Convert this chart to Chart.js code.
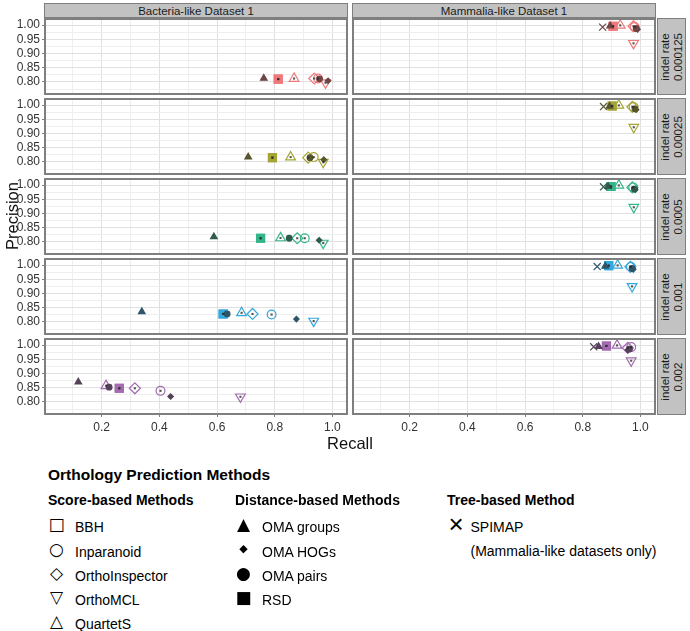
<!DOCTYPE html>
<html>
<head>
<meta charset="utf-8">
<script src="https://cdn.jsdelivr.net/npm/chart.js@4.4.1/dist/chart.umd.min.js"></script>
<style>
body { margin: 0; background: #fff; font-family: "Liberation Sans", Arial, sans-serif; }
#fig { position: relative; width: 690px; height: 631px; overflow: hidden; }
.abs { position: absolute; white-space: nowrap; }
.frame { position: absolute; border: 2px solid #7f7f7f; box-sizing: border-box; pointer-events: none; }
.strip { position: absolute; background: #c2c2c2; border: 1.5px solid #7f7f7f; box-sizing: border-box;
  font-size: 11.5px; color: #1a1a1a; display: flex; align-items: center; justify-content: center; }
.strip .rot { transform: rotate(-90deg); text-align: center; line-height: 13px; white-space: nowrap; }
.lg { font-size: 14px; color: #000; line-height: 18px; }
.sym { font-family: "DejaVu Sans", sans-serif; color: #000; line-height: 18px; text-align: center; width: 20px; }
</style>
</head>
<body>
<div id="fig"></div>
<script>
const indelRates = ['0.000125', '0.00025', '0.0005', '0.001', '0.002'];
const panelTitles = ['Bacteria-like Dataset 1', 'Mammalia-like Dataset 1'];
const methodNames = ['BBH', 'Inparanoid', 'OrthoInspector', 'OrthoMCL', 'QuartetS',
  'OMA groups', 'OMA HOGs', 'OMA pairs', 'RSD', 'SPIMAP'];

const xMajorTicks = [0.2, 0.4, 0.6, 0.8, 1.0];
const xTickLabels = ['0.2', '0.4', '0.6', '0.8', '1.0'];
const xMinorTicks = [0.1, 0.3, 0.5, 0.7, 0.9];
const yMajorTicks = [0.80, 0.85, 0.90, 0.95, 1.00];
const yTickLabels = ['0.80', '0.85', '0.90', '0.95', '1.00'];
const yMinorTicks = [0.775, 0.825, 0.875, 0.925, 0.975];

const rowColors = ['#f0787a', '#a5a536', '#35b68a', '#33a8dd', '#a36bb0'];

// one row per indel rate, columns in methodNames order (null = not run)
const bacteriaRecall = [
  [0.812, 0.950, 0.937, 0.976, 0.867, 0.762, 0.985, 0.955, 0.812, null],
  [0.792, 0.935, 0.916, 0.968, 0.855, 0.708, 0.970, 0.922, 0.792, null],
  [0.751, 0.904, 0.878, 0.968, 0.820, 0.589, 0.954, 0.850, 0.751, null],
  [0.621, 0.789, 0.723, 0.935, 0.685, 0.339, 0.875, 0.635, 0.621, null],
  [0.261, 0.404, 0.315, 0.681, 0.215, 0.119, 0.439, 0.226, 0.261, null]
];
const bacteriaPrecision = [
  [0.810, 0.812, 0.812, 0.797, 0.812, 0.813, 0.804, 0.811, 0.810, null],
  [0.815, 0.817, 0.815, 0.799, 0.817, 0.817, 0.808, 0.815, 0.815, null],
  [0.813, 0.813, 0.813, 0.796, 0.814, 0.818, 0.806, 0.813, 0.813, null],
  [0.828, 0.826, 0.828, 0.803, 0.832, 0.836, 0.810, 0.828, 0.828, null],
  [0.848, 0.839, 0.848, 0.818, 0.857, 0.870, 0.819, 0.852, 0.848, null]
];
const mammaliaRecall = [
  [0.905, 0.980, 0.976, 0.976, 0.930, 0.895, 0.990, 0.985, 0.905, 0.869],
  [0.902, 0.976, 0.972, 0.977, 0.925, 0.893, 0.985, 0.981, 0.902, 0.872],
  [0.898, 0.975, 0.972, 0.977, 0.925, 0.888, 0.982, 0.979, 0.898, 0.872],
  [0.890, 0.967, 0.965, 0.971, 0.921, 0.878, 0.975, 0.971, 0.890, 0.850],
  [0.882, 0.968, 0.956, 0.968, 0.919, 0.855, 0.956, 0.962, 0.882, 0.838]
];
const mammaliaPrecision = [
  [0.996, 0.993, 0.996, 0.936, 0.999, 0.997, 0.985, 0.988, 0.996, 0.993],
  [0.997, 0.993, 0.994, 0.922, 0.999, 0.996, 0.984, 0.987, 0.997, 0.995],
  [0.995, 0.992, 0.992, 0.922, 0.999, 0.995, 0.984, 0.986, 0.995, 0.994],
  [0.998, 0.994, 0.994, 0.925, 0.999, 0.996, 0.985, 0.988, 0.998, 0.995],
  [0.997, 0.993, 0.990, 0.945, 0.999, 0.995, 0.983, 0.986, 0.997, 0.994]
];

// marker look per method
const methodStyle = {
  'BBH':            { shape: 'rect', r: 5.6, fill: 'none', order: 5, dot: true },
  'Inparanoid':     { shape: 'circle', r: 4.4, fill: 'none', order: 4, dot: true },
  'OrthoInspector': { shape: 'rectRot', r: 5.5, fill: 'none', order: 4, dot: true },
  'OrthoMCL':       { shape: 'triangle', rot: 180, r: 5.6, fill: 'none', order: 4, dot: true },
  'QuartetS':       { shape: 'triangle', r: 5.6, fill: 'none', order: 4, dot: true },
  'OMA groups':     { shape: 'triangle', r: 3.8, fill: 'dark', order: 2 },
  'OMA HOGs':       { shape: 'rectRot', r: 2.7, fill: 'dark', order: 2 },
  'OMA pairs':      { shape: 'circle', r: 2.8, fill: 'dark', order: 2 },
  'RSD':            { shape: 'rect', r: 5.6, fill: 'color', order: 6, dot: true },
  'SPIMAP':         { shape: 'crossRot', r: 5, fill: 'line', order: 3 }
};

function darken(hex) {
  const n = parseInt(hex.slice(1), 16);
  const mixc = v => Math.round(v * 0.35 + 0x2a * 0.65);
  return 'rgb(' + mixc(n >> 16) + ',' + mixc((n >> 8) & 255) + ',' + mixc(n & 255) + ')';
}

function panelDatasets(recall, precision, color) {
  const sets = [];
  methodNames.forEach((name, m) => {
    if (recall[m] == null) return;
    const st = methodStyle[name];
    let bg = 'rgba(0,0,0,0)', bd = color;
    if (st.fill === 'dark') { bg = darken(color); bd = darken(color); }
    if (st.fill === 'color') { bg = color; bd = color; }
    if (st.fill === 'line') { bd = darken(color); }
    sets.push({
      label: name,
      data: [{ x: recall[m], y: precision[m] }],
      pointStyle: st.shape,
      rotation: st.rot || 0,
      pointRadius: st.r,
      pointBorderWidth: 1.2,
      pointBackgroundColor: bg,
      pointBorderColor: bd,
      order: st.order
    });
  });
  // small dark error marks at the centre of each open marker
  sets.push({
    label: 'error',
    data: recall.map((x, m) => ({ x: x, y: precision[m] }))
      .filter((p, m) => p.x != null && methodStyle[methodNames[m]].dot),
    pointStyle: 'rect',
    pointRadius: 1.5,
    pointBorderWidth: 0,
    pointBackgroundColor: 'rgba(45,45,45,0.8)',
    order: 0
  });
  return sets;
}

const fig = document.getElementById('fig');
function add(tag, cls, l, t, w, h, html) {
  const el = document.createElement(tag);
  if (cls) el.className = cls;
  el.style.position = 'absolute';
  el.style.left = l + 'px';
  el.style.top = t + 'px';
  if (w != null) el.style.width = w + 'px';
  if (h != null) el.style.height = h + 'px';
  if (html != null) el.innerHTML = html;
  fig.appendChild(el);
  return el;
}

const xAll = xMajorTicks.concat(xMinorTicks).sort((a, b) => a - b);
const yAll = yMajorTicks.concat(yMinorTicks).sort((a, b) => a - b);

function gridColor(major) {
  return ctx => major.indexOf(ctx.tick.value) >= 0 ? '#e0e0e0' : '#efefef';
}
function tickColor(major) {
  return ctx => major.indexOf(ctx.tick.value) >= 0 ? '#7f7f7f' : 'rgba(0,0,0,0)';
}

for (let r = 0; r < 5; r++) {
  for (let c = 0; c < 2; c++) {
    const innerL = c ? 354 : 46, innerT = 20 + 80 * r, W = 300, H = 73;
    const axisW = c ? 0 : 46, padL = c ? 6 : 0;
    const bottomAxis = r === 4;
    const axisH = bottomAxis ? 26 : 0, padB = bottomAxis ? 0 : 6;
    const cw = axisW + padL + W + 6, ch = 6 + H + axisH + padB;
    const cv = add('canvas', null, innerL - axisW - padL, innerT - 6, null, null);
    cv.width = cw; cv.height = ch;
    cv.style.width = cw + 'px'; cv.style.height = ch + 'px';

    const recall = c ? mammaliaRecall[r] : bacteriaRecall[r];
    const precision = c ? mammaliaPrecision[r] : bacteriaPrecision[r];

    new Chart(cv, {
      type: 'scatter',
      data: { datasets: panelDatasets(recall, precision, rowColors[r]) },
      options: {
        responsive: false,
        animation: false,
        events: [],
        layout: { autoPadding: false, padding: { left: padL, top: 6, right: 6, bottom: padB } },
        plugins: { legend: { display: false }, tooltip: { enabled: false } },
        scales: {
          x: {
            type: 'linear', min: 0.007, max: 1.047,
            afterBuildTicks: s => { s.ticks = xAll.map(v => ({ value: v })); },
            afterFit: s => { s.height = axisH; s.paddingLeft = 0; s.paddingRight = 0; },
            border: { display: false },
            grid: { color: gridColor(xMajorTicks), lineWidth: 1, drawTicks: bottomAxis, tickLength: 4,
              tickColor: tickColor(xMajorTicks) },
            ticks: {
              display: bottomAxis, autoSkip: false, maxRotation: 0, padding: 3,
              color: '#333', font: { family: 'Liberation Sans', size: 12 },
              callback: v => { const i = xMajorTicks.indexOf(v); return i >= 0 ? xTickLabels[i] : ''; }
            }
          },
          y: {
            type: 'linear', min: 0.761, max: 1.018,
            afterBuildTicks: s => { s.ticks = yAll.map(v => ({ value: v })); },
            afterFit: s => { s.width = axisW; s.paddingTop = 0; s.paddingBottom = 0; },
            border: { display: false },
            grid: { color: gridColor(yMajorTicks), lineWidth: 1, drawTicks: !c, tickLength: 4,
              tickColor: tickColor(yMajorTicks) },
            ticks: {
              display: !c, autoSkip: false, padding: 2,
              color: '#333', font: { family: 'Liberation Sans', size: 12 },
              callback: v => { const i = yMajorTicks.indexOf(v); return i >= 0 ? yTickLabels[i] : ''; }
            }
          }
        }
      }
    });

    add('div', 'frame', innerL - 2, innerT - 2, W + 4, H + 4);
  }
  add('div', 'strip', 657, 18 + 80 * r, 29, 77,
    '<div class="rot">indel rate<br>' + indelRates[r] + '</div>');
}
panelTitles.forEach((t, c) => add('div', 'strip', c ? 352 : 44, 3, 304, 15, t));

// axis titles
const yt = add('div', 'abs', 12 - 50, 216 - 10, 100, 20, 'Precision');
yt.style.cssText += 'font-size:16.5px;text-align:center;line-height:20px;transform:rotate(-90deg);color:#111;';
const xt = add('div', 'abs', 350 - 50, 443 - 10, 100, 20, 'Recall');
xt.style.cssText += 'font-size:16.5px;text-align:center;line-height:20px;color:#111;';

// legend
const lgTitle = add('div', 'abs lg', 48, 466, null, null, 'Orthology Prediction Methods');
lgTitle.style.cssText += 'font-weight:bold;font-size:15.5px;';
const groups = [
  { head: 'Score-based Methods', hx: 48, sx: 56.5, tx: 75,
    items: [['BBH', '\u25A1'], ['Inparanoid', '\u25CB'], ['OrthoInspector', '\u25C7'], ['OrthoMCL', '\u25BD'], ['QuartetS', '\u25B3']] },
  { head: 'Distance-based Methods', hx: 235, sx: 243.5, tx: 262,
    items: [['OMA groups', '\u25B2'], ['OMA HOGs', '\u25C6'], ['OMA pairs', '\u25CF'], ['RSD', '\u25A0']] },
  { head: 'Tree-based Method', hx: 447, sx: 456, tx: 470.5,
    items: [['SPIMAP<br>(Mammalia-like datasets only)', '\u00D7']] }
];
const itemY = [524, 548.5, 573, 597, 621];
groups.forEach(g => {
  const h = add('div', 'abs lg', g.hx, 500 - 9, null, null, g.head);
  h.style.fontWeight = 'bold';
  g.items.forEach((it, i) => {
    add('div', 'abs lg', g.tx, itemY[i] - 9, null, null, it[0]).style.lineHeight = '24px';
    const s = add('div', 'abs sym', g.sx - 10, itemY[i] - 9, null, null, it[1]);
    s.style.fontSize = it[1] === '\u25C6' ? '11px' : '17px';
    if (it[1] === '\u00D7') s.style.cssText += 'font-family:"Liberation Sans";font-size:26px;font-weight:300;';
  });
});
</script>
</body>
</html>
